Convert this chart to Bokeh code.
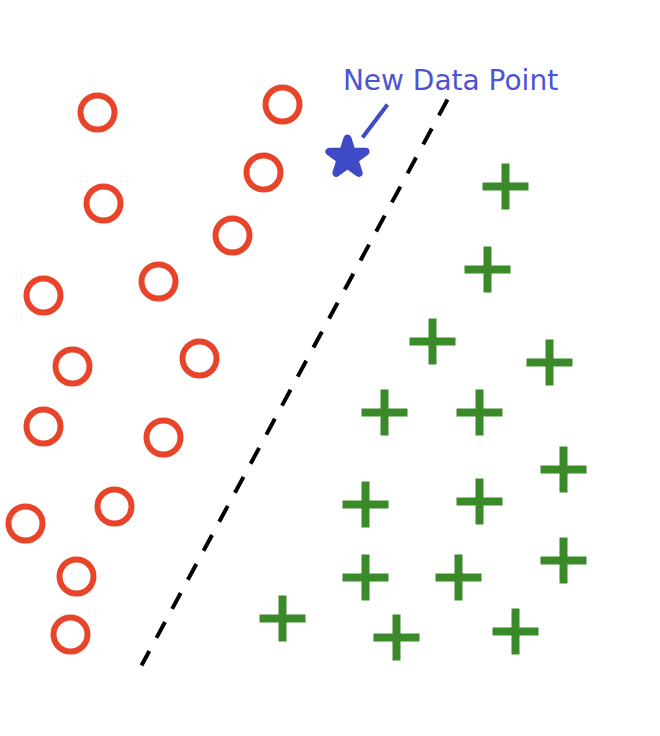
# Clasificación de un nuevo punto: dos clases separadas por una frontera lineal

from bokeh.core.properties import value
from bokeh.embed import file_html
from bokeh.models import Range1d
from bokeh.plotting import figure
from bokeh.resources import INLINE

# Clase A (círculos rojos)
clase_a_x = [9.7, 28.2, 26.3, 10.3, 23.2, 4.3, 15.8, 7.2, 19.9, 4.3, 16.3, 2.5, 11.4, 7.6, 7.0]
clase_a_y = [62.4, 63.2, 56.4, 53.3, 50.1, 44.1, 45.5, 37.0, 37.8, 31.0, 29.9, 21.3, 23.0, 16.0, 10.2]

# Clase B (cruces verdes)
clase_b_x = [50.5, 48.7, 43.2, 54.9, 38.4, 47.9, 56.3, 36.5, 47.9, 36.5, 45.8, 56.3, 28.2, 39.6, 51.5]
clase_b_y = [55.0, 46.7, 39.5, 37.4, 32.4, 32.4, 26.7, 23.2, 23.5, 15.9, 15.9, 17.6, 11.8, 9.9, 10.5]

# Nuevo punto y frontera de decisión
nuevo_x = [34.7]
nuevo_y = [57.9]
frontera_x = [44.7, 14.1]
frontera_y = [63.7, 7.1]
flecha_x = [36.2, 38.7]
flecha_y = [59.9, 63.2]
etiqueta = "New Data Point"
etiqueta_x = [45.0]
etiqueta_y = [65.6]

p = figure(
    width=660,
    height=736,
    x_range=Range1d(0, 66),
    y_range=Range1d(0, 73.6),
    output_backend="svg",
    toolbar_location=None,
    min_border=0,
)
p.axis.visible = False
p.grid.visible = False
p.outline_line_color = None
p.background_fill_color = "white"
p.border_fill_color = "white"

# Frontera discontinua
p.line(frontera_x, frontera_y, line_color="black", line_width=4, line_dash="18 15")

# Clase A
p.scatter(
    clase_a_x, clase_a_y, marker="circle", size=34,
    fill_color=None, line_color="#e8442a", line_width=6,
)

# Clase B
p.scatter(
    clase_b_x, clase_b_y, marker="cross", size=46,
    line_color="#3b8a2a", line_width=8,
)

# Nuevo punto
p.scatter(
    nuevo_x, nuevo_y, marker="star", size=38,
    fill_color="#3e4ac6", line_color="#3e4ac6", line_width=8, line_join="round",
)
p.line(flecha_x, flecha_y, line_color="#3e4ac6", line_width=4)
p.text(
    etiqueta_x, etiqueta_y, text=[etiqueta], text_font=value("DejaVu Sans"),
    text_font_size="28px", text_color="#4c54d4",
    text_align="center", text_baseline="alphabetic",
)

open("out.html", "w").write(file_html(p, INLINE))
